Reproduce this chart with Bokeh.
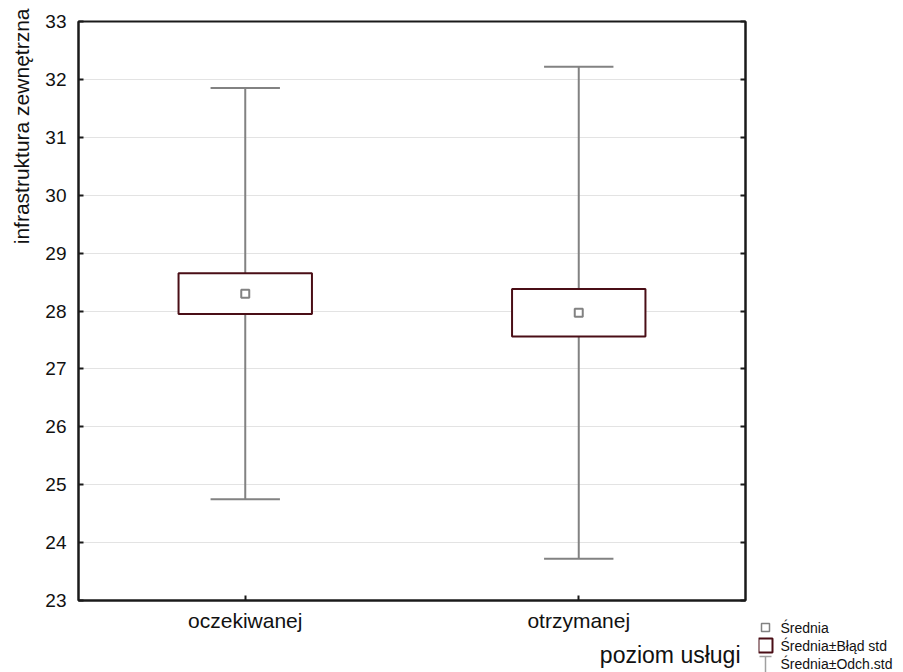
from bokeh.plotting import figure
from bokeh.models import ColumnDataSource, Range1d, Title, LinearAxis, FixedTicker
from bokeh.layouts import row, column
from bokeh.transform import dodge
from bokeh.core.properties import value
from bokeh.embed import file_html
from bokeh.resources import INLINE

categories = ["oczekiwanej", "otrzymanej"]
means = [28.30, 27.97]
std_err = [0.35, 0.41]
std_dev = [3.55, 4.25]
y_ticks = [23, 24, 25, 26, 27, 28, 29, 30, 31, 32, 33]
y_label = "infrastruktura zewnętrzna"
x_label = "poziom usługi"
legend_labels = ["Średnia", "Średnia±Błąd std", "Średnia±Odch.std"]

FONT = "Liberation Sans"
BOX_COLOR = "#4a0e16"
WHISK_COLOR = "#828282"
AXIS_COLOR = "#1a1a1a"

src = ColumnDataSource(dict(
    cat=categories,
    mean=means,
    se_lo=[m - s for m, s in zip(means, std_err)],
    se_hi=[m + s for m, s in zip(means, std_err)],
    sd_lo=[m - s for m, s in zip(means, std_dev)],
    sd_hi=[m + s for m, s in zip(means, std_dev)],
))

p = figure(x_range=categories, y_range=Range1d(23, 33), width=758, height=672,
           output_backend="svg", toolbar_location=None,
           min_border_left=78, min_border_right=13, min_border_top=21, min_border_bottom=72)
p.x_range.range_padding = 0
p.outline_line_color = AXIS_COLOR
p.outline_line_width = 2

p.xgrid.grid_line_color = None
p.ygrid.grid_line_color = "#e3e3e3"
p.ygrid.grid_line_width = 1
p.yaxis.ticker = FixedTicker(ticks=y_ticks)

for ax in [p.xaxis[0], p.yaxis[0]]:
    ax.axis_line_color = AXIS_COLOR
    ax.axis_line_width = 2
    ax.major_tick_in = 5
    ax.major_tick_out = 0
    ax.major_tick_line_color = AXIS_COLOR
    ax.major_tick_line_width = 2
    ax.minor_tick_line_color = None
    ax.major_label_text_font = FONT
    ax.major_label_text_color = "#111111"
p.yaxis.major_label_text_font_size = "19px"
p.xaxis.major_label_text_font_size = "21px"
p.yaxis.major_label_standoff = 12
p.xaxis.major_label_standoff = 8

right_ax = LinearAxis(ticker=FixedTicker(ticks=y_ticks), axis_line_color=AXIS_COLOR, axis_line_width=2,
                      major_tick_in=5, major_tick_out=0, major_tick_line_color=AXIS_COLOR,
                      major_tick_line_width=2, minor_tick_line_color=None,
                      major_label_text_font_size="1px", major_label_text_color=None,
                      major_label_standoff=0)
p.add_layout(right_ax, "right")

p.add_layout(Title(text=y_label, align="right", vertical_align="top", text_font=FONT,
                   text_font_size="21px", text_font_style="normal", text_color="#111111",
                   standoff=15, offset=-13), "left")
p.add_layout(Title(text=x_label, align="right", text_font=FONT, text_font_size="23px",
                   text_line_height=0.75, text_font_style="normal", text_color="#111111",
                   standoff=10, offset=5), "below")

# whiskers (mean ± std dev)
p.segment(x0="cat", x1="cat", y0="sd_lo", y1="sd_hi", source=src, line_color=WHISK_COLOR, line_width=2)
for col in ["sd_lo", "sd_hi"]:
    p.segment(x0=dodge("cat", -0.104, range=p.x_range), x1=dodge("cat", 0.104, range=p.x_range),
              y0=col, y1=col, source=src, line_color=WHISK_COLOR, line_width=2)
# box (mean ± std err)
p.vbar(x="cat", width=0.4, bottom="se_lo", top="se_hi", source=src,
       fill_color="white", line_color=BOX_COLOR, line_width=2)
# mean marker
p.scatter(x="cat", y="mean", source=src, marker="square", size=8,
          fill_color="white", line_color=WHISK_COLOR, line_width=2)

# legend panel
lg = figure(width=137, height=672, x_range=Range1d(0, 137), y_range=Range1d(0, 672),
            output_backend="svg", toolbar_location=None,
            x_axis_location=None, y_axis_location=None,
            min_border=0, outline_line_color=None)
lg.grid.visible = False
ly = [45, 27, 9]
lg.scatter(x=[7], y=[ly[0]], marker="square", size=8, fill_color="white",
           line_color=WHISK_COLOR, line_width=1.5)
lg.rect(x=[7], y=[ly[1]], width=14, height=14, fill_color="white",
        line_color=BOX_COLOR, line_width=2)
lg.segment(x0=[7], x1=[7], y0=[ly[2] - 9], y1=[ly[2] + 7], line_color="#a0a0a0", line_width=1.5)
lg.segment(x0=[1], x1=[13], y0=[ly[2] + 7], y1=[ly[2] + 7], line_color="#a0a0a0", line_width=1.5)
lg.text(x=[22, 22, 22], y=ly, text=legend_labels, text_font=value(FONT), text_font_size="14px",
        text_baseline="middle", text_color="#111111")

layout = row(p, column(lg))
open("out.html", "w").write(file_html(layout, INLINE))
